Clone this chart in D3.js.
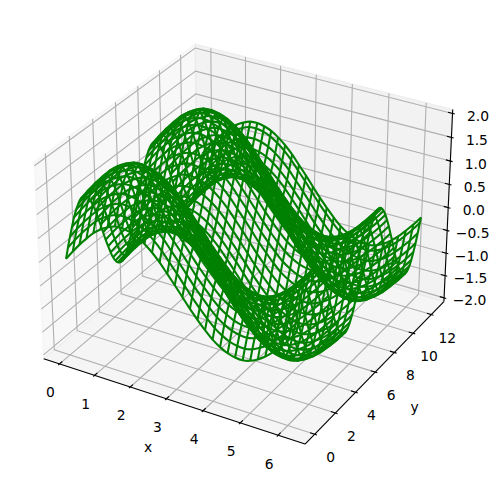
<!DOCTYPE html>
<html><head><meta charset="utf-8"><style>html,body{margin:0;background:#fff}svg{display:block}text{font-family:"DejaVu Sans";font-size:13.89px;fill:#000}</style>
<script src="https://cdn.jsdelivr.net/npm/d3@7"></script></head><body><script>
const xValues=[0,.2,.4,.6,.8,1,1.2,1.4,1.6,1.8,2,2.2,2.4,2.6,2.8,3,3.2,3.4,3.6,3.8,4,4.2,4.4,4.6,4.8,5,5.2,5.4,5.6,5.8,6,6.2];
const yValues=[0,.2,.4,.6,.8,1,1.2,1.4,1.6,1.8,2,2.2,2.4,2.6,2.8,3,3.2,3.4,3.6,3.8,4,4.2,4.4,4.6,4.8,5,5.2,5.4,5.6,5.8,6,6.2,6.4,6.6,6.8,7,7.2,7.4,7.6,7.8,8,8.2,8.4,8.6,8.8,9,9.2,9.4,9.6,9.8,10,10.2,10.4,10.6,10.8,11,11.2,11.4,11.6,11.8,12,12.2,12.4,12.5];
const zRows=[
[0,.2,.39,.56,.72,.84,.93,.99,1,.97,.91,.81,.68,.52,.33,.14,-.06,-.26,-.44,-.61,-.76,-.87,-.95,-.99,-1,-.96,-.88,-.77,-.63,-.46,-.28,-.08,.12,.31,.49,.66,.79,.9,.97,1,.99,.94,.85,.73,.58,.41,.22,.03,-.17,-.37,-.54,-.7,-.83,-.92,-.98,-1,-.98,-.92,-.82,-.69,-.54,-.36,-.17,-.07],
[.2,.4,.59,.76,.92,1.04,1.13,1.19,1.2,1.17,1.11,1.01,.88,.72,.53,.34,.14,-.06,-.24,-.41,-.56,-.67,-.75,-.79,-.8,-.76,-.68,-.57,-.43,-.26,-.08,.12,.32,.51,.69,.86,.99,1.1,1.17,1.2,1.19,1.14,1.05,.93,.78,.61,.42,.23,.03,-.17,-.34,-.5,-.63,-.72,-.78,-.8,-.78,-.72,-.62,-.49,-.34,-.16,.03,.13],
[.39,.59,.78,.95,1.11,1.23,1.32,1.38,1.39,1.36,1.3,1.2,1.07,.91,.72,.53,.33,.13,-.05,-.22,-.37,-.48,-.56,-.6,-.61,-.57,-.49,-.38,-.24,-.07,.11,.31,.51,.7,.88,1.05,1.18,1.29,1.36,1.39,1.38,1.33,1.24,1.12,.97,.8,.61,.42,.22,.02,-.15,-.31,-.44,-.53,-.59,-.61,-.59,-.53,-.43,-.3,-.15,.03,.22,.32],
[.56,.76,.95,1.12,1.28,1.4,1.49,1.55,1.56,1.53,1.47,1.37,1.24,1.08,.89,.7,.5,.3,.12,-.05,-.2,-.31,-.39,-.43,-.44,-.4,-.32,-.21,-.07,.1,.28,.48,.68,.87,1.05,1.22,1.35,1.46,1.53,1.56,1.55,1.5,1.41,1.29,1.14,.97,.78,.59,.39,.19,.02,-.14,-.27,-.36,-.42,-.44,-.42,-.36,-.26,-.13,.02,.2,.39,.49],
[.72,.92,1.11,1.28,1.44,1.56,1.65,1.71,1.72,1.69,1.63,1.53,1.4,1.24,1.05,.86,.66,.46,.28,.11,-.04,-.15,-.23,-.27,-.28,-.24,-.16,-.05,.09,.26,.44,.64,.84,1.03,1.21,1.38,1.51,1.62,1.69,1.72,1.71,1.66,1.57,1.45,1.3,1.13,.94,.75,.55,.35,.18,.02,-.11,-.2,-.26,-.28,-.26,-.2,-.1,.03,.18,.36,.55,.65],
[.84,1.04,1.23,1.4,1.56,1.68,1.77,1.83,1.84,1.81,1.75,1.65,1.52,1.36,1.17,.98,.78,.58,.4,.23,.08,-.03,-.11,-.15,-.16,-.12,-.04,.07,.21,.38,.56,.76,.96,1.15,1.33,1.5,1.63,1.74,1.81,1.84,1.83,1.78,1.69,1.57,1.42,1.25,1.06,.87,.67,.47,.3,.14,.01,-.08,-.14,-.16,-.14,-.08,.02,.15,.3,.48,.67,.77],
[.93,1.13,1.32,1.49,1.65,1.77,1.86,1.92,1.93,1.9,1.84,1.74,1.61,1.45,1.26,1.07,.87,.67,.49,.32,.17,.06,-.02,-.06,-.07,-.03,.05,.16,.3,.47,.65,.85,1.05,1.24,1.42,1.59,1.72,1.83,1.9,1.93,1.92,1.87,1.78,1.66,1.51,1.34,1.15,.96,.76,.56,.39,.23,.1,.01,-.05,-.07,-.05,.01,.11,.24,.39,.57,.76,.86],
[.99,1.19,1.38,1.55,1.71,1.83,1.92,1.98,1.99,1.96,1.9,1.8,1.67,1.51,1.32,1.13,.93,.73,.55,.38,.23,.12,.04,0,-.01,.03,.11,.22,.36,.53,.71,.91,1.11,1.3,1.48,1.65,1.78,1.89,1.96,1.99,1.98,1.93,1.84,1.72,1.57,1.4,1.21,1.02,.82,.62,.45,.29,.16,.07,.01,-.01,.01,.07,.17,.3,.45,.63,.82,.92],
[1,1.2,1.39,1.56,1.72,1.84,1.93,1.99,2,1.97,1.91,1.81,1.68,1.52,1.33,1.14,.94,.74,.56,.39,.24,.13,.05,.01,0,.04,.12,.23,.37,.54,.72,.92,1.12,1.31,1.49,1.66,1.79,1.9,1.97,2,1.99,1.94,1.85,1.73,1.58,1.41,1.22,1.03,.83,.63,.46,.3,.17,.08,.02,0,.02,.08,.18,.31,.46,.64,.83,.93],
[.97,1.17,1.36,1.53,1.69,1.81,1.9,1.96,1.97,1.94,1.88,1.78,1.65,1.49,1.3,1.11,.91,.71,.53,.36,.21,.1,.02,-.02,-.03,.01,.09,.2,.34,.51,.69,.89,1.09,1.28,1.46,1.63,1.76,1.87,1.94,1.97,1.96,1.91,1.82,1.7,1.55,1.38,1.19,1,.8,.6,.43,.27,.14,.05,-.01,-.03,-.01,.05,.15,.28,.43,.61,.8,.9],
[.91,1.11,1.3,1.47,1.63,1.75,1.84,1.9,1.91,1.88,1.82,1.72,1.59,1.43,1.24,1.05,.85,.65,.47,.3,.15,.04,-.04,-.08,-.09,-.05,.03,.14,.28,.45,.63,.83,1.03,1.22,1.4,1.57,1.7,1.81,1.88,1.91,1.9,1.85,1.76,1.64,1.49,1.32,1.13,.94,.74,.54,.37,.21,.08,-.01,-.07,-.09,-.07,-.01,.09,.22,.37,.55,.74,.84],
[.81,1.01,1.2,1.37,1.53,1.65,1.74,1.8,1.81,1.78,1.72,1.62,1.49,1.33,1.14,.95,.75,.55,.37,.2,.05,-.06,-.14,-.18,-.19,-.15,-.07,.04,.18,.35,.53,.73,.93,1.12,1.3,1.47,1.6,1.71,1.78,1.81,1.8,1.75,1.66,1.54,1.39,1.22,1.03,.84,.64,.44,.27,.11,-.02,-.11,-.17,-.19,-.17,-.11,-.01,.12,.27,.45,.64,.74],
[.68,.88,1.07,1.24,1.4,1.52,1.61,1.67,1.68,1.65,1.59,1.49,1.36,1.2,1.01,.82,.62,.42,.24,.07,-.08,-.19,-.27,-.31,-.32,-.28,-.2,-.09,.05,.22,.4,.6,.8,.99,1.17,1.34,1.47,1.58,1.65,1.68,1.67,1.62,1.53,1.41,1.26,1.09,.9,.71,.51,.31,.14,-.02,-.15,-.24,-.3,-.32,-.3,-.24,-.14,-.01,.14,.32,.51,.61],
[.52,.72,.91,1.08,1.24,1.36,1.45,1.51,1.52,1.49,1.43,1.33,1.2,1.04,.85,.66,.46,.26,.08,-.09,-.24,-.35,-.43,-.47,-.48,-.44,-.36,-.25,-.11,.06,.24,.44,.64,.83,1.01,1.18,1.31,1.42,1.49,1.52,1.51,1.46,1.37,1.25,1.1,.93,.74,.55,.35,.15,-.02,-.18,-.31,-.4,-.46,-.48,-.46,-.4,-.3,-.17,-.02,.16,.35,.45],
[.33,.53,.72,.89,1.05,1.17,1.26,1.32,1.33,1.3,1.24,1.14,1.01,.85,.66,.47,.27,.07,-.11,-.28,-.43,-.54,-.62,-.66,-.67,-.63,-.55,-.44,-.3,-.13,.05,.25,.45,.64,.82,.99,1.12,1.23,1.3,1.33,1.32,1.27,1.18,1.06,.91,.74,.55,.36,.16,-.04,-.21,-.37,-.5,-.59,-.65,-.67,-.65,-.59,-.49,-.36,-.21,-.03,.16,.26],
[.14,.34,.53,.7,.86,.98,1.07,1.13,1.14,1.11,1.05,.95,.82,.66,.47,.28,.08,-.12,-.3,-.47,-.62,-.73,-.81,-.85,-.86,-.82,-.74,-.63,-.49,-.32,-.14,.06,.26,.45,.63,.8,.93,1.04,1.11,1.14,1.13,1.08,.99,.87,.72,.55,.36,.17,-.03,-.23,-.4,-.56,-.69,-.78,-.84,-.86,-.84,-.78,-.68,-.55,-.4,-.22,-.03,.07],
[-.06,.14,.33,.5,.66,.78,.87,.93,.94,.91,.85,.75,.62,.46,.27,.08,-.12,-.32,-.5,-.67,-.82,-.93,-1.01,-1.05,-1.06,-1.02,-.94,-.83,-.69,-.52,-.34,-.14,.06,.25,.43,.6,.73,.84,.91,.94,.93,.88,.79,.67,.52,.35,.16,-.03,-.23,-.43,-.6,-.76,-.89,-.98,-1.04,-1.06,-1.04,-.98,-.88,-.75,-.6,-.42,-.23,-.13],
[-.26,-.06,.13,.3,.46,.58,.67,.73,.74,.71,.65,.55,.42,.26,.07,-.12,-.32,-.52,-.7,-.87,-1.02,-1.13,-1.21,-1.25,-1.26,-1.22,-1.14,-1.03,-.89,-.72,-.54,-.34,-.14,.05,.23,.4,.53,.64,.71,.74,.73,.68,.59,.47,.32,.15,-.04,-.23,-.43,-.63,-.8,-.96,-1.09,-1.18,-1.24,-1.26,-1.24,-1.18,-1.08,-.95,-.8,-.62,-.43,-.33],
[-.44,-.24,-.05,.12,.28,.4,.49,.55,.56,.53,.47,.37,.24,.08,-.11,-.3,-.5,-.7,-.88,-1.05,-1.2,-1.31,-1.39,-1.43,-1.44,-1.4,-1.32,-1.21,-1.07,-.9,-.72,-.52,-.32,-.13,.05,.22,.35,.46,.53,.56,.55,.5,.41,.29,.14,-.03,-.22,-.41,-.61,-.81,-.98,-1.14,-1.27,-1.36,-1.42,-1.44,-1.42,-1.36,-1.26,-1.13,-.98,-.8,-.61,-.51],
[-.61,-.41,-.22,-.05,.11,.23,.32,.38,.39,.36,.3,.2,.07,-.09,-.28,-.47,-.67,-.87,-1.05,-1.22,-1.37,-1.48,-1.56,-1.6,-1.61,-1.57,-1.49,-1.38,-1.24,-1.07,-.89,-.69,-.49,-.3,-.12,.05,.18,.29,.36,.39,.38,.33,.24,.12,-.03,-.2,-.39,-.58,-.78,-.98,-1.15,-1.31,-1.44,-1.53,-1.59,-1.61,-1.59,-1.53,-1.43,-1.3,-1.15,-.97,-.78,-.68],
[-.76,-.56,-.37,-.2,-.04,.08,.17,.23,.24,.21,.15,.05,-.08,-.24,-.43,-.62,-.82,-1.02,-1.2,-1.37,-1.52,-1.63,-1.71,-1.75,-1.76,-1.72,-1.64,-1.53,-1.39,-1.22,-1.04,-.84,-.64,-.45,-.27,-.1,.03,.14,.21,.24,.23,.18,.09,-.03,-.18,-.35,-.54,-.73,-.93,-1.13,-1.3,-1.46,-1.59,-1.68,-1.74,-1.76,-1.74,-1.68,-1.58,-1.45,-1.3,-1.12,-.93,-.83],
[-.87,-.67,-.48,-.31,-.15,-.03,.06,.12,.13,.1,.04,-.06,-.19,-.35,-.54,-.73,-.93,-1.13,-1.31,-1.48,-1.63,-1.74,-1.82,-1.86,-1.87,-1.83,-1.75,-1.64,-1.5,-1.33,-1.15,-.95,-.75,-.56,-.38,-.21,-.08,.03,.1,.13,.12,.07,-.02,-.14,-.29,-.46,-.65,-.84,-1.04,-1.24,-1.41,-1.57,-1.7,-1.79,-1.85,-1.87,-1.85,-1.79,-1.69,-1.56,-1.41,-1.23,-1.04,-.94],
[-.95,-.75,-.56,-.39,-.23,-.11,-.02,.04,.05,.02,-.04,-.14,-.27,-.43,-.62,-.81,-1.01,-1.21,-1.39,-1.56,-1.71,-1.82,-1.9,-1.94,-1.95,-1.91,-1.83,-1.72,-1.58,-1.41,-1.23,-1.03,-.83,-.64,-.46,-.29,-.16,-.05,.02,.05,.04,-.01,-.1,-.22,-.37,-.54,-.73,-.92,-1.12,-1.32,-1.49,-1.65,-1.78,-1.87,-1.93,-1.95,-1.93,-1.87,-1.77,-1.64,-1.49,-1.31,-1.12,-1.02],
[-.99,-.79,-.6,-.43,-.27,-.15,-.06,0,.01,-.02,-.08,-.18,-.31,-.47,-.66,-.85,-1.05,-1.25,-1.43,-1.6,-1.75,-1.86,-1.94,-1.98,-1.99,-1.95,-1.87,-1.76,-1.62,-1.45,-1.27,-1.07,-.87,-.68,-.5,-.33,-.2,-.09,-.02,.01,0,-.05,-.14,-.26,-.41,-.58,-.77,-.96,-1.16,-1.36,-1.53,-1.69,-1.82,-1.91,-1.97,-1.99,-1.97,-1.91,-1.81,-1.68,-1.53,-1.35,-1.16,-1.06],
[-1,-.8,-.61,-.44,-.28,-.16,-.07,-.01,0,-.03,-.09,-.19,-.32,-.48,-.67,-.86,-1.06,-1.26,-1.44,-1.61,-1.76,-1.87,-1.95,-1.99,-2,-1.96,-1.88,-1.77,-1.63,-1.46,-1.28,-1.08,-.88,-.69,-.51,-.34,-.21,-.1,-.03,0,-.01,-.06,-.15,-.27,-.42,-.59,-.78,-.97,-1.17,-1.37,-1.54,-1.7,-1.83,-1.92,-1.98,-2,-1.98,-1.92,-1.82,-1.69,-1.54,-1.36,-1.17,-1.07],
[-.96,-.76,-.57,-.4,-.24,-.12,-.03,.03,.04,.01,-.05,-.15,-.28,-.44,-.63,-.82,-1.02,-1.22,-1.4,-1.57,-1.72,-1.83,-1.91,-1.95,-1.96,-1.92,-1.84,-1.73,-1.59,-1.42,-1.24,-1.04,-.84,-.65,-.47,-.3,-.17,-.06,.01,.04,.03,-.02,-.11,-.23,-.38,-.55,-.74,-.93,-1.13,-1.33,-1.5,-1.66,-1.79,-1.88,-1.94,-1.96,-1.94,-1.88,-1.78,-1.65,-1.5,-1.32,-1.13,-1.03],
[-.88,-.68,-.49,-.32,-.16,-.04,.05,.11,.12,.09,.03,-.07,-.2,-.36,-.55,-.74,-.94,-1.14,-1.32,-1.49,-1.64,-1.75,-1.83,-1.87,-1.88,-1.84,-1.76,-1.65,-1.51,-1.34,-1.16,-.96,-.76,-.57,-.39,-.22,-.09,.02,.09,.12,.11,.06,-.03,-.15,-.3,-.47,-.66,-.85,-1.05,-1.25,-1.42,-1.58,-1.71,-1.8,-1.86,-1.88,-1.86,-1.8,-1.7,-1.57,-1.42,-1.24,-1.05,-.95],
[-.77,-.57,-.38,-.21,-.05,.07,.16,.22,.23,.2,.14,.04,-.09,-.25,-.44,-.63,-.83,-1.03,-1.21,-1.38,-1.53,-1.64,-1.72,-1.76,-1.77,-1.73,-1.65,-1.54,-1.4,-1.23,-1.05,-.85,-.65,-.46,-.28,-.11,.02,.13,.2,.23,.22,.17,.08,-.04,-.19,-.36,-.55,-.74,-.94,-1.14,-1.31,-1.47,-1.6,-1.69,-1.75,-1.77,-1.75,-1.69,-1.59,-1.46,-1.31,-1.13,-.94,-.84],
[-.63,-.43,-.24,-.07,.09,.21,.3,.36,.37,.34,.28,.18,.05,-.11,-.3,-.49,-.69,-.89,-1.07,-1.24,-1.39,-1.5,-1.58,-1.62,-1.63,-1.59,-1.51,-1.4,-1.26,-1.09,-.91,-.71,-.51,-.32,-.14,.03,.16,.27,.34,.37,.36,.31,.22,.1,-.05,-.22,-.41,-.6,-.8,-1,-1.17,-1.33,-1.46,-1.55,-1.61,-1.63,-1.61,-1.55,-1.45,-1.32,-1.17,-.99,-.8,-.7],
[-.46,-.26,-.07,.1,.26,.38,.47,.53,.54,.51,.45,.35,.22,.06,-.13,-.32,-.52,-.72,-.9,-1.07,-1.22,-1.33,-1.41,-1.45,-1.46,-1.42,-1.34,-1.23,-1.09,-.92,-.74,-.54,-.34,-.15,.03,.2,.33,.44,.51,.54,.53,.48,.39,.27,.12,-.05,-.24,-.43,-.63,-.83,-1,-1.16,-1.29,-1.38,-1.44,-1.46,-1.44,-1.38,-1.28,-1.15,-1,-.82,-.63,-.53],
[-.28,-.08,.11,.28,.44,.56,.65,.71,.72,.69,.63,.53,.4,.24,.05,-.14,-.34,-.54,-.72,-.89,-1.04,-1.15,-1.23,-1.27,-1.28,-1.24,-1.16,-1.05,-.91,-.74,-.56,-.36,-.16,.03,.21,.38,.51,.62,.69,.72,.71,.66,.57,.45,.3,.13,-.06,-.25,-.45,-.65,-.82,-.98,-1.11,-1.2,-1.26,-1.28,-1.26,-1.2,-1.1,-.97,-.82,-.64,-.45,-.35],
[-.08,.12,.31,.48,.64,.76,.85,.91,.92,.89,.83,.73,.6,.44,.25,.06,-.14,-.34,-.52,-.69,-.84,-.95,-1.03,-1.07,-1.08,-1.04,-.96,-.85,-.71,-.54,-.36,-.16,.04,.23,.41,.58,.71,.82,.89,.92,.91,.86,.77,.65,.5,.33,.14,-.05,-.25,-.45,-.62,-.78,-.91,-1,-1.06,-1.08,-1.06,-1,-.9,-.77,-.62,-.44,-.25,-.15]
];
const xTicks=[0,1,2,3,4,5,6];
const yTicks=[0,2,4,6,8,10,12];
const zTicks=[-2,-1.5,-1,-0.5,0,0.5,1,1.5,2];

const W=498,H=482;
const svg=d3.select("body").append("svg").attr("width",W).attr("height",H);
const xLim=[-0.3125,6.5625],yLim=[-0.625,13.125],zLim=[-2,2];
const pad=l=>{const d=(l[1]-l[0])/48;return [l[0]-d,l[1]+d];};
const xE=pad(xLim),yE=pad(yLim),zE=pad(zLim);
const n=Math.hypot(4,4,3),f=1.8294640721620434/n;
const bx=4*f,by=4*f,bz=3*f;
const sx=d3.scaleLinear().domain(xLim).range([-bx/2,bx/2]);
const sy=d3.scaleLinear().domain(yLim).range([-by/2,by/2]);
const sz=d3.scaleLinear().domain(zLim).range([-bz/2,bz/2]);
const el=30*Math.PI/180,az=-60*Math.PI/180,dist=10;
const w=[Math.cos(el)*Math.cos(az),Math.cos(el)*Math.sin(az),Math.sin(el)];
const ul=Math.hypot(w[0],w[1]);const u=[-w[1]/ul,w[0]/ul,0];
const v=[w[1]*u[2]-w[2]*u[1],w[2]*u[0]-w[0]*u[2],w[0]*u[1]-w[1]*u[0]];
const K=2515,CX=247.5,CY=234.5;
const px=d3.scaleLinear().domain([0,1]).range([CX,CX+K]);
const py=d3.scaleLinear().domain([0,1]).range([CY,CY-K]);
function P(x,y,z){const d=[sx(x),sy(y),sz(z)];
 const dot=a=>a[0]*d[0]+a[1]*d[1]+a[2]*d[2];
 const den=dist-dot(w);
 return [px(dot(u)/den),py(dot(v)/den)];}
const line=d3.line();
const smooth=d3.line().curve(d3.curveCatmullRom.alpha(0.5));
function path(pts,stroke,width,fill){return svg.append("path").attr("d",line(pts)+(fill?"Z":"")).attr("fill",fill||"none").attr("stroke",stroke).attr("stroke-width",width);}
const [x0,x1]=xE,[y0,y1]=yE,[z0,z1]=zE;
path([P(x0,y0,z0),P(x0,y1,z0),P(x0,y1,z1),P(x0,y0,z1)],"rgba(242,242,242,.5)",1.39,"rgba(242,242,242,.5)");
path([P(x0,y1,z0),P(x1,y1,z0),P(x1,y1,z1),P(x0,y1,z1)],"rgba(230,230,230,.5)",1.39,"rgba(230,230,230,.5)");
path([P(x0,y0,z0),P(x1,y0,z0),P(x1,y1,z0),P(x0,y1,z0)],"rgba(236,236,236,.5)",1.39,"rgba(236,236,236,.5)");
const G="#b0b0b0",GW=1.11;
xTicks.forEach(t=>path([P(t,y0,z0),P(t,y1,z0),P(t,y1,z1)],G,GW));
yTicks.forEach(t=>path([P(x1,t,z0),P(x0,t,z0),P(x0,t,z1)],G,GW));
zTicks.forEach(t=>path([P(x0,y0,t),P(x0,y1,t),P(x1,y1,t)],G,GW));
path([P(x0,y0,z0),P(x1,y0,z0)],"#000",1.11);
path([P(x1,y0,z0),P(x1,y1,z0)],"#000",1.11);
path([P(x1,y1,z0),P(x1,y1,z1)],"#000",1.11);
const dx=(x1-x0)/12,dy=(y1-y0)/12;
function label(p,s){svg.append("text").attr("x",p[0]).attr("y",p[1]).attr("text-anchor","middle").attr("dominant-baseline","central").text(s);}
const fmtZ=t=>d3.format(".1f")(t).replace("-","\u2212");
xTicks.forEach(t=>{path([P(t,y0-.1*dy,z0),P(t,y0+.2*dy,z0)],"#000",1.11);
 const p=P(t,y0,z0);label([p[0]-9,p[1]+28.5],String(t));});
yTicks.forEach(t=>{path([P(x1+.1*dx,t,z0),P(x1-.2*dx,t,z0)],"#000",1.11);
 const p=P(x1,t,z0);label([p[0]+16,p[1]+23],String(t));});
zTicks.forEach(t=>{path([P(x1+.1*dx,y1,t),P(x1-.2*dx,y1,t)],"#000",1.11);
 const p=P(x1,y1,t);label([p[0]+25.5,p[1]+2.5],fmtZ(t));});
const mx=P(3.1,y0,z0),my=P(x1,6.25,z0);
label([mx[0]-22,mx[1]+47],"x");label([my[0]+37,my[1]+37],"y");
const wire=svg.append("g").attr("fill","none").attr("stroke","#008000").attr("stroke-width",2.08).attr("stroke-linejoin","round");
xValues.forEach((x,i)=>wire.append("path").attr("d",smooth(yValues.map((y,j)=>P(x,y,zRows[i][j])))));
yValues.forEach((y,j)=>wire.append("path").attr("d",smooth(xValues.map((x,i)=>P(x,y,zRows[i][j])))));
</script></body></html>
